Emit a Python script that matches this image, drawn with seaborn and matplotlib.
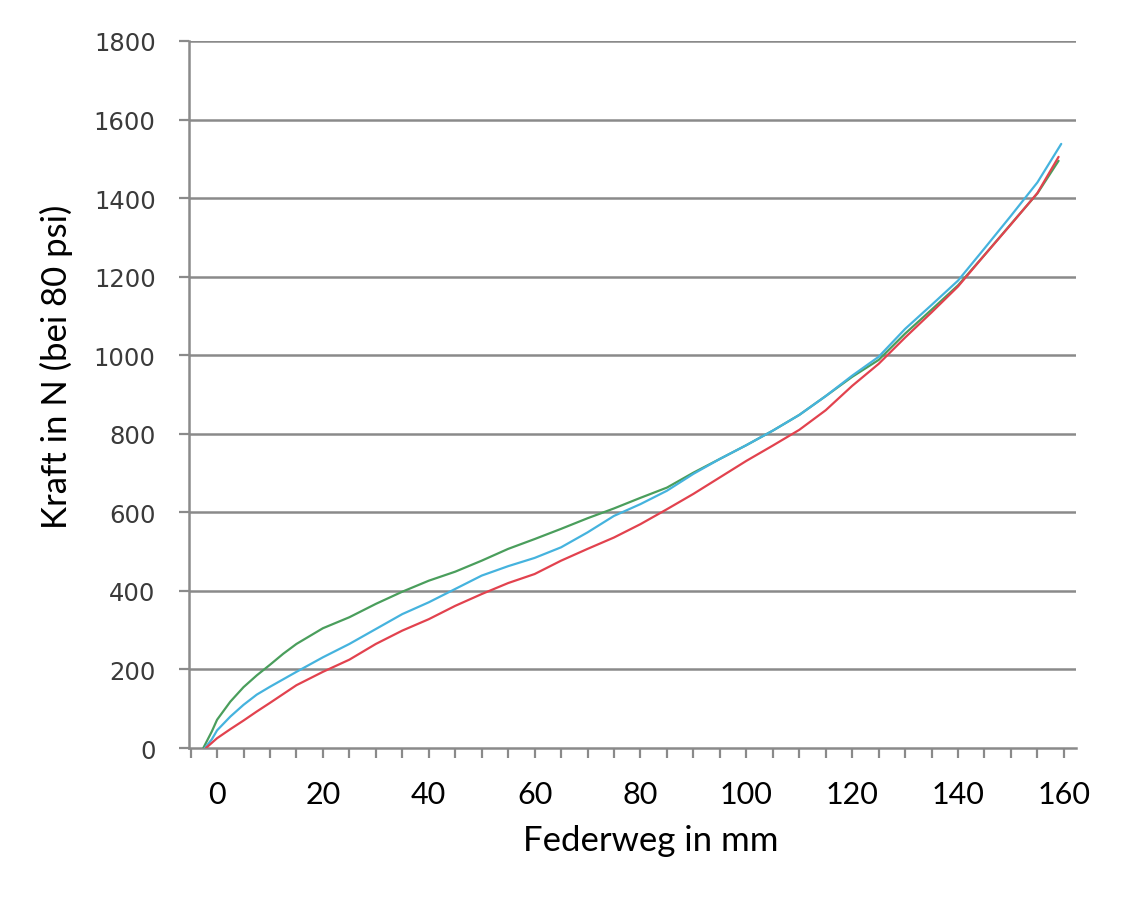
import numpy as np
import pandas as pd
import matplotlib
matplotlib.use("Agg")
import matplotlib.pyplot as plt
from matplotlib.ticker import MultipleLocator
import seaborn as sns

# ---- data ----
x_green = [-2.6, -1, 0, 2.5, 5, 7.5, 10, 12.5, 15, 20, 25, 30, 35, 40, 45, 50, 55, 60,
           65, 70, 75, 80, 85, 90, 95, 100, 105, 110, 115, 120, 125, 130, 135, 140, 145,
           150, 155, 159]
y_green = [0, 42, 72, 118, 155, 185, 212, 240, 265, 305, 333, 367, 398, 426, 449, 477,
           507, 532, 558, 585, 610, 637, 663, 701, 736, 771, 808, 848, 896, 945, 988,
           1055, 1116, 1178, 1255, 1334, 1412, 1495]

x_cyan = [-2.3, -1, 0, 2.5, 5, 7.5, 10, 15, 20, 25, 30, 35, 40, 45, 50, 55, 60, 65, 70,
          75, 80, 85, 90, 95, 100, 105, 110, 115, 120, 125, 130, 135, 140, 145, 150, 155,
          159.5]
y_cyan = [0, 22, 45, 80, 110, 136, 156, 194, 231, 265, 303, 341, 371, 405, 439, 463,
          484, 511, 549, 591, 621, 655, 698, 736, 771, 808, 848, 896, 948, 996, 1067,
          1128, 1190, 1272, 1355, 1440, 1538]

x_red = [-2.1, 0, 2.5, 5, 7.5, 10, 15, 20, 25, 30, 35, 40, 45, 50, 55, 60, 65, 70, 75,
         80, 85, 90, 95, 100, 105, 110, 115, 120, 125, 130, 135, 140, 145, 150, 155, 159]
y_red = [0, 25, 48, 70, 93, 115, 160, 194, 225, 265, 299, 328, 362, 392, 420, 443, 477,
         507, 536, 570, 608, 647, 689, 731, 770, 810, 860, 922, 978, 1045, 1109, 1175,
         1255, 1333, 1413, 1505]

series_names = ["Grün", "Blau", "Rot"]
series_colors = ["#4a9e5c", "#45b3de", "#e2424e"]

x_ticks = [0, 20, 40, 60, 80, 100, 120, 140, 160]
y_ticks = [0, 200, 400, 600, 800, 1000, 1200, 1400, 1600, 1800]

df = pd.concat([
    pd.DataFrame({"x": x_green, "y": y_green, "s": series_names[0]}),
    pd.DataFrame({"x": x_cyan, "y": y_cyan, "s": series_names[1]}),
    pd.DataFrame({"x": x_red, "y": y_red, "s": series_names[2]}),
])

sns.set_theme(style="white")
plt.rcParams["font.family"] = ["Lato", "DejaVu Sans"]

fig = plt.figure(figsize=(11.4, 9.03), dpi=100)
ax = fig.add_axes([0.1658, 0.1705, 0.7781, 0.7830])

grid_col = "#8a8a8a"
for yv in y_ticks[1:]:
    ax.axhline(yv, color=grid_col, lw=1.8, zorder=1)

sns.lineplot(data=df, x="x", y="y", hue="s", palette=dict(zip(series_names, series_colors)),
             hue_order=series_names, sort=False, estimator=None, lw=1.6, legend=False,
             ax=ax, zorder=3)

ax.set_xlim(-5.3, 162.3)
ax.set_ylim(0, 1800)

ax.xaxis.set_minor_locator(MultipleLocator(5))
ax.set_xticks(x_ticks)
ax.set_yticks(y_ticks)
ax.set_xticklabels([str(v) for v in x_ticks], fontsize=22, color="black")
ax.set_yticklabels([str(v) for v in y_ticks], fontsize=17.5, color="#3a3a3a",
                   family="DejaVu Sans")

ax.tick_params(axis="x", which="both", direction="out", length=7, width=1.6,
               color=grid_col, bottom=True, pad=16)
ax.tick_params(axis="y", which="major", direction="out", length=7, width=1.6,
               color=grid_col, left=True, pad=17)

for side in ["top", "right"]:
    ax.spines[side].set_visible(False)
for side in ["left", "bottom"]:
    ax.spines[side].set_color(grid_col)
    ax.spines[side].set_linewidth(1.8)

ax.set_xlabel("Federweg in mm", fontsize=25, color="black")
ax.set_ylabel("Kraft in N (bei 80 psi)", fontsize=25, color="black")
ax.xaxis.set_label_coords(0.520, -0.108)
ax.yaxis.set_label_coords(-0.131, 0.540)

fig.savefig("out.png", dpi=100, facecolor="white")
